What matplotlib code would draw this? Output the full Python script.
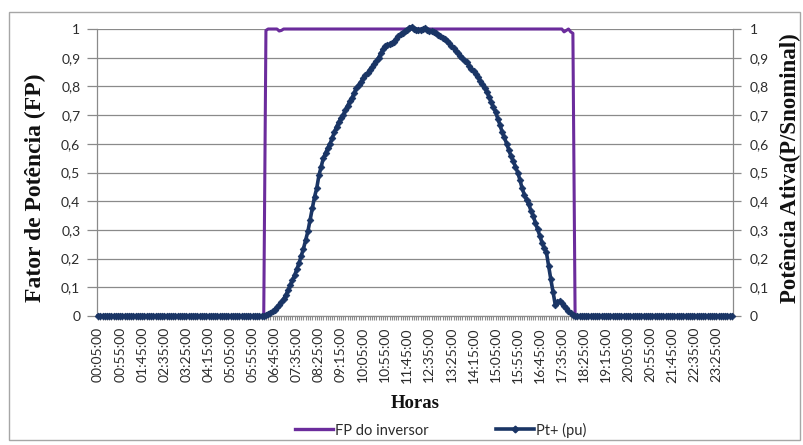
import matplotlib
matplotlib.use("Agg")
import matplotlib.pyplot as plt
from matplotlib.lines import Line2D
from matplotlib.patches import Rectangle

plt.rcParams['font.family'] = ['Lato', 'DejaVu Sans']

# Category labels shown on the time axis (every 10th 5-minute sample)
tick_labels = [
    "00:05:00", "00:55:00", "01:45:00", "02:35:00", "03:25:00", "04:15:00",
    "05:05:00", "05:55:00", "06:45:00", "07:35:00", "08:25:00", "09:15:00",
    "10:05:00", "10:55:00", "11:45:00", "12:35:00", "13:25:00", "14:15:00",
    "15:05:00", "15:55:00", "16:45:00", "17:35:00", "18:25:00", "19:15:00",
    "20:05:00", "20:55:00", "21:45:00", "22:35:00", "23:25:00",
]
label_step = 10

# Inverter power factor, 5-minute samples from 00:05 to 24:00
fp_inversor = (
    [0.0, 0.0, 0.0, 0.0, 0.0, 0.0, 0.0, 0.0, 0.0, 0.0,
     0.0, 0.0, 0.0, 0.0, 0.0, 0.0, 0.0, 0.0, 0.0, 0.0,
     0.0, 0.0, 0.0, 0.0, 0.0, 0.0, 0.0, 0.0, 0.0, 0.0,
     0.0, 0.0, 0.0, 0.0, 0.0, 0.0, 0.0, 0.0, 0.0, 0.0,
     0.0, 0.0, 0.0, 0.0, 0.0, 0.0, 0.0, 0.0, 0.0, 0.0,
     0.0, 0.0, 0.0, 0.0, 0.0, 0.0, 0.0, 0.0, 0.0, 0.0,
     0.0, 0.0, 0.0, 0.0, 0.0, 0.0, 0.0, 0.0, 0.0, 0.0,
     0.0, 0.0, 0.0, 0.0, 0.0, 0.0]
    + [0.995, 1.0, 1.0, 1.0, 1.0, 1.0, 0.993, 0.995, 1.0, 1.0,
       1.0, 1.0, 1.0, 1.0, 1.0, 1.0, 1.0, 1.0, 1.0, 1.0,
       1.0, 1.0, 1.0, 1.0, 1.0, 1.0, 1.0, 1.0, 1.0, 1.0,
       1.0, 1.0, 1.0, 1.0, 1.0, 1.0, 1.0, 1.0, 1.0, 1.0,
       1.0, 1.0, 1.0, 1.0, 1.0, 1.0, 1.0, 1.0, 1.0, 1.0,
       1.0, 1.0, 1.0, 1.0, 1.0, 1.0, 1.0, 1.0, 1.0, 1.0,
       1.0, 1.0, 1.0, 1.0, 1.0, 1.0, 1.0, 1.0, 1.0, 1.0,
       1.0, 1.0, 1.0, 1.0, 1.0, 1.0, 1.0, 1.0, 1.0, 1.0,
       1.0, 1.0, 1.0, 1.0, 1.0, 1.0, 1.0, 1.0, 1.0, 1.0,
       1.0, 1.0, 1.0, 1.0, 1.0, 1.0, 1.0, 1.0, 1.0, 1.0,
       1.0, 1.0, 1.0, 1.0, 1.0, 1.0, 1.0, 1.0, 1.0, 1.0,
       1.0, 1.0, 1.0, 1.0, 1.0, 1.0, 1.0, 1.0, 1.0, 1.0,
       1.0, 1.0, 1.0, 1.0, 1.0, 1.0, 1.0, 1.0, 1.0, 1.0,
       1.0, 1.0, 1.0, 1.0, 1.0, 0.99, 0.995, 1.0, 0.99, 0.985]
    + [0.0, 0.0, 0.0, 0.0, 0.0, 0.0, 0.0, 0.0, 0.0, 0.0,
       0.0, 0.0, 0.0, 0.0, 0.0, 0.0, 0.0, 0.0, 0.0, 0.0,
       0.0, 0.0, 0.0, 0.0, 0.0, 0.0, 0.0, 0.0, 0.0, 0.0,
       0.0, 0.0, 0.0, 0.0, 0.0, 0.0, 0.0, 0.0, 0.0, 0.0,
       0.0, 0.0, 0.0, 0.0, 0.0, 0.0, 0.0, 0.0, 0.0, 0.0,
       0.0, 0.0, 0.0, 0.0, 0.0, 0.0, 0.0, 0.0, 0.0, 0.0,
       0.0, 0.0, 0.0, 0.0, 0.0, 0.0, 0.0, 0.0, 0.0, 0.0,
       0.0, 0.0]
)

# Active power in per unit, same 5-minute samples
pt_pu = (
    [0.0, 0.0, 0.0, 0.0, 0.0, 0.0, 0.0, 0.0, 0.0, 0.0,
     0.0, 0.0, 0.0, 0.0, 0.0, 0.0, 0.0, 0.0, 0.0, 0.0,
     0.0, 0.0, 0.0, 0.0, 0.0, 0.0, 0.0, 0.0, 0.0, 0.0,
     0.0, 0.0, 0.0, 0.0, 0.0, 0.0, 0.0, 0.0, 0.0, 0.0,
     0.0, 0.0, 0.0, 0.0, 0.0, 0.0, 0.0, 0.0, 0.0, 0.0,
     0.0, 0.0, 0.0, 0.0, 0.0, 0.0, 0.0, 0.0, 0.0, 0.0,
     0.0, 0.0, 0.0, 0.0, 0.0, 0.0, 0.0, 0.0, 0.0, 0.0,
     0.0, 0.0, 0.0, 0.0, 0.0]
    + [0.0, 0.002, 0.006, 0.011, 0.016, 0.022, 0.030, 0.039, 0.048, 0.060,
       0.072, 0.090, 0.108, 0.125, 0.142, 0.163, 0.185, 0.210, 0.235, 0.265,
       0.295, 0.335, 0.375, 0.415, 0.445, 0.490, 0.520, 0.550, 0.568, 0.585,
       0.600, 0.620, 0.640, 0.660, 0.675, 0.690, 0.700, 0.718, 0.733, 0.748,
       0.760, 0.778, 0.795, 0.805, 0.815, 0.828, 0.838, 0.846, 0.858, 0.866,
       0.878, 0.888, 0.900, 0.915, 0.930, 0.940, 0.944, 0.946, 0.950, 0.956,
       0.966, 0.975, 0.982, 0.987, 0.993, 0.998, 1.005, 1.008, 1.000, 0.996,
       0.995, 0.998, 1.000, 1.002, 0.998, 0.994, 0.992, 0.988, 0.985, 0.980,
       0.975, 0.970, 0.964, 0.958, 0.950, 0.942, 0.933, 0.924, 0.915, 0.907,
       0.898, 0.890, 0.884, 0.872, 0.862, 0.852, 0.843, 0.832, 0.820, 0.808,
       0.795, 0.782, 0.764, 0.745, 0.728, 0.710, 0.688, 0.665, 0.640, 0.622,
       0.600, 0.578, 0.556, 0.540, 0.520, 0.500, 0.475, 0.445, 0.423, 0.405,
       0.390, 0.367, 0.350, 0.325, 0.303, 0.280, 0.256, 0.238, 0.222, 0.175,
       0.128, 0.085, 0.040, 0.048, 0.052, 0.045, 0.036, 0.027, 0.018, 0.010,
       0.004, 0.0]
    + [0.0, 0.0, 0.0, 0.0, 0.0, 0.0, 0.0, 0.0, 0.0, 0.0,
       0.0, 0.0, 0.0, 0.0, 0.0, 0.0, 0.0, 0.0, 0.0, 0.0,
       0.0, 0.0, 0.0, 0.0, 0.0, 0.0, 0.0, 0.0, 0.0, 0.0,
       0.0, 0.0, 0.0, 0.0, 0.0, 0.0, 0.0, 0.0, 0.0, 0.0,
       0.0, 0.0, 0.0, 0.0, 0.0, 0.0, 0.0, 0.0, 0.0, 0.0,
       0.0, 0.0, 0.0, 0.0, 0.0, 0.0, 0.0, 0.0, 0.0, 0.0,
       0.0, 0.0, 0.0, 0.0, 0.0, 0.0, 0.0, 0.0, 0.0, 0.0,
       0.0]
)

y_ticks = [0.0, 0.1, 0.2, 0.3, 0.4, 0.5, 0.6, 0.7, 0.8, 0.9, 1.0]
y_tick_labels = ["0", "0,1", "0,2", "0,3", "0,4", "0,5", "0,6", "0,7", "0,8", "0,9", "1"]

n = len(pt_pu)
x = list(range(n))

FP_COLOR = "#6b2c9c"
PT_COLOR = "#1a3565"
GRID = "#8a8a8a"
TEXT = "#2b2b2b"

fig = plt.figure(figsize=(8.04, 4.45), dpi=100)
fig.patch.set_facecolor("white")

# outer chart border
fig.add_artist(Rectangle((9 / 804, 1 - 440 / 445), 791 / 804, 428 / 445,
                         transform=fig.transFigure, fill=False,
                         edgecolor="#a6a6a6", lw=1.0))

ax = fig.add_axes([97 / 804, 1 - 316 / 445, 636 / 804, 287 / 445])
ax.set_xlim(-0.5, n - 0.5)
ax.set_ylim(0, 1)

ax.plot(x, fp_inversor, color=FP_COLOR, lw=2.2, clip_on=False, zorder=3)

ax.set_yticks(y_ticks)
ax.set_yticklabels(y_tick_labels, fontsize=10, color=TEXT)
ax.yaxis.grid(True, color=GRID, lw=0.9)
ax.set_axisbelow(True)

ax.set_xticks(range(0, n, label_step))
ax.set_xticklabels(tick_labels[: len(range(0, n, label_step))], rotation=90,
                   fontsize=10, color=TEXT)
ax.set_xticks(range(n), minor=True)
ax.tick_params(axis="x", which="both", direction="out", length=3,
               color=GRID, width=0.8, pad=5)
ax.tick_params(axis="y", direction="out", length=7, color=GRID, width=0.9, pad=5)

for s in ("top", "right"):
    ax.spines[s].set_visible(False)
for s in ("left", "bottom"):
    ax.spines[s].set_color(GRID)
    ax.spines[s].set_linewidth(0.9)

ax2 = ax.twinx()
ax2.set_ylim(0, 1)
ax2.plot(x, pt_pu, color=PT_COLOR, lw=2.6, marker="D", markersize=3.4,
         markeredgewidth=0.6, clip_on=False, zorder=4)
ax2.set_yticks(y_ticks)
ax2.set_yticklabels(y_tick_labels, fontsize=10, color=TEXT)
ax2.tick_params(axis="y", direction="out", length=6, color=GRID, width=0.9, pad=6)
for s in ("top", "left", "bottom"):
    ax2.spines[s].set_visible(False)
ax2.spines["right"].set_color(GRID)
ax2.spines["right"].set_linewidth(0.9)

serif = ["Liberation Serif", "DejaVu Serif"]
fig.text(35 / 804, 1 - 188 / 445, "Fator de Potência (FP)", rotation=90,
         ha="center", va="center", fontsize=17, fontweight="bold",
         family=serif, color="#111111")
fig.text(790 / 804, 1 - 168 / 445, "Potência Ativa(P/Snominal)", rotation=90,
         ha="center", va="center", fontsize=16.5, fontweight="bold",
         family=serif, color="#111111")
fig.text(415 / 804, 1 - 403 / 445, "Horas", ha="center", va="center",
         fontsize=13.5, fontweight="bold", family=serif, color="#111111")

handles = [
    Line2D([], [], color=FP_COLOR, lw=2.4),
    Line2D([], [], color=PT_COLOR, lw=2.6, marker="D", markersize=3.4),
]
fig.legend(handles, ["FP do inversor", "Pt+ (pu)"], loc="center",
           bbox_to_anchor=(441 / 804, 1 - 430 / 445), ncol=2, frameon=False,
           fontsize=10.5, handlelength=2.6, handletextpad=0.15, columnspacing=4.6,
           labelcolor=TEXT)

fig.savefig("out.png", dpi=100)
